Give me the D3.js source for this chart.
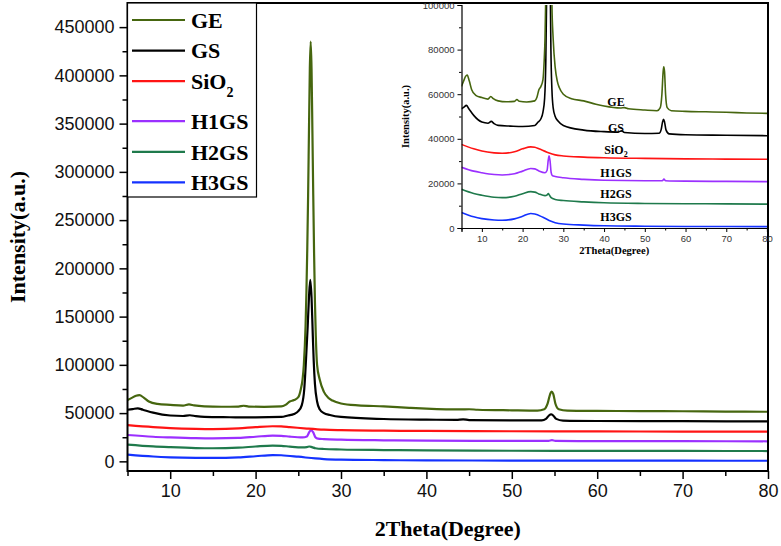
<!DOCTYPE html>
<html>
<head>
<meta charset="utf-8">
<script src="https://cdn.jsdelivr.net/npm/d3@7"></script>
<style>
  html, body { margin: 0; padding: 0; background: #fff; }
  svg { display: block; }
</style>
</head>
<body>
<svg id="chart" width="781" height="546"></svg>
<script>
// ---------------- DATA ----------------
const seriesNames = ["GE", "GS", "SiO2", "H1GS", "H2GS", "H3GS"];
const seriesColors = ["#46660f", "#000000", "#ff1414", "#9b30ff", "#1f7a4c", "#1432ff"];

const GE = [[5,63500],[5.5,65800],[6,68000],[6.4,68600],[6.9,66000],[7.5,62000],[8.5,59500],[10,58500],[11.5,57800],[12.2,59000],[12.8,58000],[14,57000],[16,56600],[18,56800],[18.6,57600],[19.2,56800],[21,56500],[23,57000],[23.5,58500],[24,62000],[24.5,63500],[25,66500],[25.3,75000],[25.5,85000],[25.65,100000],[25.85,140000],[25.95,175000],[26.05,220000],[26.15,276000],[26.25,343000],[26.35,407000],[26.45,435000],[26.55,407000],[26.65,343000],[26.75,276000],[26.85,215000],[26.95,165000],[27.05,130000],[27.2,100000],[27.5,85000],[28,72000],[28.5,66000],[29,63000],[30,60000],[32,58000],[35,57000],[38,55500],[40,54700],[44,53800],[45,54000],[46,53500],[50,52900],[53,52600],[53.8,54000],[54.2,60000],[54.5,70000],[54.65,72300],[54.85,70000],[55.1,60000],[55.5,54000],[56.5,52600],[60,52300],[65,52100],[70,51900],[75,51600],[80,51400]];
const GS = [[5,53500],[5.6,54200],[6.2,55000],[6.8,53500],[8,50500],[10,47500],[11.5,47000],[12.3,47800],[13,46800],[14,46000],[17,45700],[20,45500],[23,46000],[23.8,47500],[24.5,49000],[25,52000],[25.4,58000],[25.7,75000],[25.9,105000],[26.1,140000],[26.25,170000],[26.4,188000],[26.55,170000],[26.7,130000],[26.8,105000],[26.95,80000],[27.2,62000],[27.5,54000],[28,50000],[28.7,48000],[30,46000],[35,43900],[40,43200],[43.5,43000],[44.3,43600],[45,42800],[50,42400],[53.5,42500],[54,44000],[54.35,47500],[54.6,48800],[54.85,47500],[55.2,44000],[56,42200],[60,41800],[70,41600],[80,41400]];
const SiO2 = [[5,37500],[8,35500],[10,34500],[13,33700],[15,33500],[18,34200],[20,35500],[22,36400],[23,36200],[24,35500],[26,34000],[28,32800],[30,32300],[35,31800],[40,31500],[50,31200],[60,31000],[70,30900],[80,30800]];
const H1GS = [[5,27300],[8,25500],[10,24800],[13,24000],[15,23800],[18,24300],[20,25500],[22,26700],[23,26500],[24,25600],[25.5,24800],[26,25800],[26.3,30500],[26.5,32400],[26.75,30000],[27,25000],[27.3,23500],[28,23100],[30,22500],[35,21800],[40,21400],[50,21200],[54.3,21200],[54.7,21900],[55.1,21200],[60,21000],[70,20900],[80,20800]];
const H2GS = [[5,17400],[8,15500],[10,14700],[13,13800],[15,13600],[18,14200],[20,15400],[22,16300],[23,16100],[24,15300],[25.5,14500],[26,14800],[26.3,15400],[26.6,14700],[27,13600],[28,12800],[30,12300],[35,11700],[40,11300],[50,11000],[60,10900],[70,10800],[80,10700]];
const H3GS = [[5,7000],[8,5000],[10,4200],[13,3600],[15,3500],[18,4100],[20,5300],[22,6500],[23,6300],[25,4800],[27,3000],[28,2400],[30,1800],[35,1300],[40,1000],[50,800],[60,700],[70,650],[80,600]];
const seriesData = [GE, GS, SiO2, H1GS, H2GS, H3GS];

const mainXTicks = [10, 20, 30, 40, 50, 60, 70, 80];
const mainXMinor = [5, 15, 25, 35, 45, 55, 65, 75];
const mainYTicks = [0, 50000, 100000, 150000, 200000, 250000, 300000, 350000, 400000, 450000];
const mainYMinor = [25000, 75000, 125000, 175000, 225000, 275000, 325000, 375000, 425000];
const insetXTicks = [10, 20, 30, 40, 50, 60, 70, 80];
const insetXMinor = [5, 15, 25, 35, 45, 55, 65, 75];
const insetYTicks = [0, 20000, 40000, 60000, 80000, 100000];
const insetYMinor = [10000, 30000, 50000, 70000, 90000];

// ---------------- DRAW ----------------
const svg = d3.select("#chart");
const serif = "'Liberation Serif', 'Times New Roman', serif";
const sans = "'Liberation Sans', Arial, sans-serif";

const M = { left: 127.5, right: 768, top: 3, bottom: 471 };
const x = d3.scaleLinear().domain([5, 80]).range([M.left, M.right]);
const y = d3.scaleLinear().domain([-10000, 475000]).range([M.bottom, M.top]);

const line = d3.line().x(d => x(d[0])).y(d => y(d[1])).curve(d3.curveMonotoneX);

const gMain = svg.append("g");
seriesData.slice().reverse().forEach((s, i) => {
  const idx = seriesData.length - 1 - i;
  gMain.append("path").datum(s).attr("d", line)
    .attr("fill", "none").attr("stroke", seriesColors[idx])
    .attr("stroke-width", 2.2).attr("stroke-linejoin", "round");
});

// main axes
const xAxis = d3.axisBottom(x).tickValues(mainXTicks).tickSize(8).tickPadding(5).tickFormat(d3.format("d"));
const gx = svg.append("g").attr("transform", `translate(0,${M.bottom})`).call(xAxis);
gx.select(".domain").remove();
gx.selectAll("text").attr("font-family", sans).attr("font-size", 18).attr("fill", "#111");
gx.selectAll("line").attr("stroke-width", 1.5);
const gxm = svg.append("g").attr("transform", `translate(0,${M.bottom})`)
  .call(d3.axisBottom(x).tickValues(mainXMinor).tickSize(5).tickFormat(""));
gxm.select(".domain").remove();
gxm.selectAll("line").attr("stroke-width", 1.5);

const yAxis = d3.axisLeft(y).tickValues(mainYTicks).tickSize(8).tickPadding(5).tickFormat(d3.format("d"));
const gy = svg.append("g").attr("transform", `translate(${M.left},0)`).call(yAxis);
gy.select(".domain").remove();
gy.selectAll("text").attr("font-family", sans).attr("font-size", 18).attr("fill", "#111");
gy.selectAll("line").attr("stroke-width", 1.5);
const gym = svg.append("g").attr("transform", `translate(${M.left},0)`)
  .call(d3.axisLeft(y).tickValues(mainYMinor).tickSize(5).tickFormat(""));
gym.select(".domain").remove();
gym.selectAll("line").attr("stroke-width", 1.5);

// frame
svg.append("rect").attr("x", M.left).attr("y", M.top)
  .attr("width", M.right - M.left).attr("height", M.bottom - M.top)
  .attr("fill", "none").attr("stroke", "#000").attr("stroke-width", 2);

// axis titles
svg.append("text").attr("x", (M.left + M.right) / 2).attr("y", 536)
  .attr("text-anchor", "middle").attr("font-family", serif).attr("font-weight", "bold")
  .attr("font-size", 22).text("2Theta(Degree)");
svg.append("text").attr("transform", `translate(25,${(M.top + M.bottom) / 2}) rotate(-90)`)
  .attr("text-anchor", "middle").attr("font-family", serif).attr("font-weight", "bold")
  .attr("font-size", 22).text("Intensity(a.u.)");

// legend
const legend = svg.append("g");
legend.append("rect").attr("x", M.left).attr("y", M.top).attr("width", 129).attr("height", 194)
  .attr("fill", "#fff").attr("stroke", "#000").attr("stroke-width", 1.2);
let ly = 20;
seriesNames.forEach((name, i) => {
  legend.append("line").attr("x1", 132).attr("x2", 185).attr("y1", ly).attr("y2", ly)
    .attr("stroke", seriesColors[i]).attr("stroke-width", 2.2);
  const t = legend.append("text").attr("x", 191).attr("y", ly).attr("dy", "0.35em")
    .attr("font-family", serif).attr("font-weight", "bold").attr("font-size", 22);
  if (name === "SiO2") {
    t.append("tspan").text("SiO");
    t.append("tspan").attr("font-size", 14).attr("dy", 8).text("2");
    ly += 40;
  } else {
    t.text(name);
    ly += 30.6;
  }
});

// ---------------- INSET ----------------
const I = { left: 461.5, right: 767, top: 5, bottom: 228 };
const xi = d3.scaleLinear().domain([5, 80]).range([I.left, I.right]);
const yi = d3.scaleLinear().domain([0, 100000]).range([I.bottom, I.top]);
const linei = d3.line().x(d => xi(d[0])).y(d => yi(d[1])).curve(d3.curveMonotoneX);

svg.append("clipPath").attr("id", "insetClip").append("rect")
  .attr("x", I.left).attr("y", I.top).attr("width", I.right - I.left).attr("height", I.bottom - I.top);
const gIn = svg.append("g").attr("clip-path", "url(#insetClip)");
seriesData.slice().reverse().forEach((s, i) => {
  const idx = seriesData.length - 1 - i;
  gIn.append("path").datum(s).attr("d", linei)
    .attr("fill", "none").attr("stroke", seriesColors[idx])
    .attr("stroke-width", 1.6).attr("stroke-linejoin", "round");
});

const gxi = svg.append("g").attr("transform", `translate(0,${I.bottom})`)
  .call(d3.axisBottom(xi).tickValues(insetXTicks).tickSize(4).tickPadding(3).tickFormat(d3.format("d")));
gxi.select(".domain").attr("stroke-width", 1.2);
gxi.selectAll("text").attr("font-family", sans).attr("font-size", 9.5).attr("fill", "#333");
const gxim = svg.append("g").attr("transform", `translate(0,${I.bottom})`)
  .call(d3.axisBottom(xi).tickValues(insetXMinor).tickSize(2.5).tickFormat(""));
gxim.select(".domain").remove();

const gyi = svg.append("g").attr("transform", `translate(${I.left},0)`)
  .call(d3.axisLeft(yi).tickValues(insetYTicks).tickSize(4).tickPadding(3).tickFormat(d3.format("d")));
gyi.select(".domain").attr("stroke-width", 1.2);
gyi.selectAll("text").attr("font-family", sans).attr("font-size", 9.5).attr("fill", "#333");
const gyim = svg.append("g").attr("transform", `translate(${I.left},0)`)
  .call(d3.axisLeft(yi).tickValues(insetYMinor).tickSize(2.5).tickFormat(""));
gyim.select(".domain").remove();

svg.append("text").attr("x", (I.left + I.right) / 2).attr("y", 254)
  .attr("text-anchor", "middle").attr("font-family", serif).attr("font-weight", "bold")
  .attr("font-size", 10.5).text("2Theta(Degree)");
svg.append("text").attr("transform", `translate(409,${(I.top + I.bottom) / 2}) rotate(-90)`)
  .attr("text-anchor", "middle").attr("font-family", serif).attr("font-weight", "bold")
  .attr("font-size", 10.5).text("Intensity(a.u.)");

// inset labels
const insetLabelY = [102, 128, 150, 173, 194, 217];
seriesNames.forEach((name, i) => {
  const t = svg.append("text").attr("x", 616).attr("y", insetLabelY[i]).attr("dy", "0.35em")
    .attr("text-anchor", "middle").attr("font-family", serif).attr("font-weight", "bold")
    .attr("font-size", 12);
  if (name === "SiO2") {
    t.append("tspan").text("SiO");
    t.append("tspan").attr("font-size", 8).attr("dy", 3).text("2");
  } else {
    t.text(name);
  }
});
</script>
</body>
</html>
